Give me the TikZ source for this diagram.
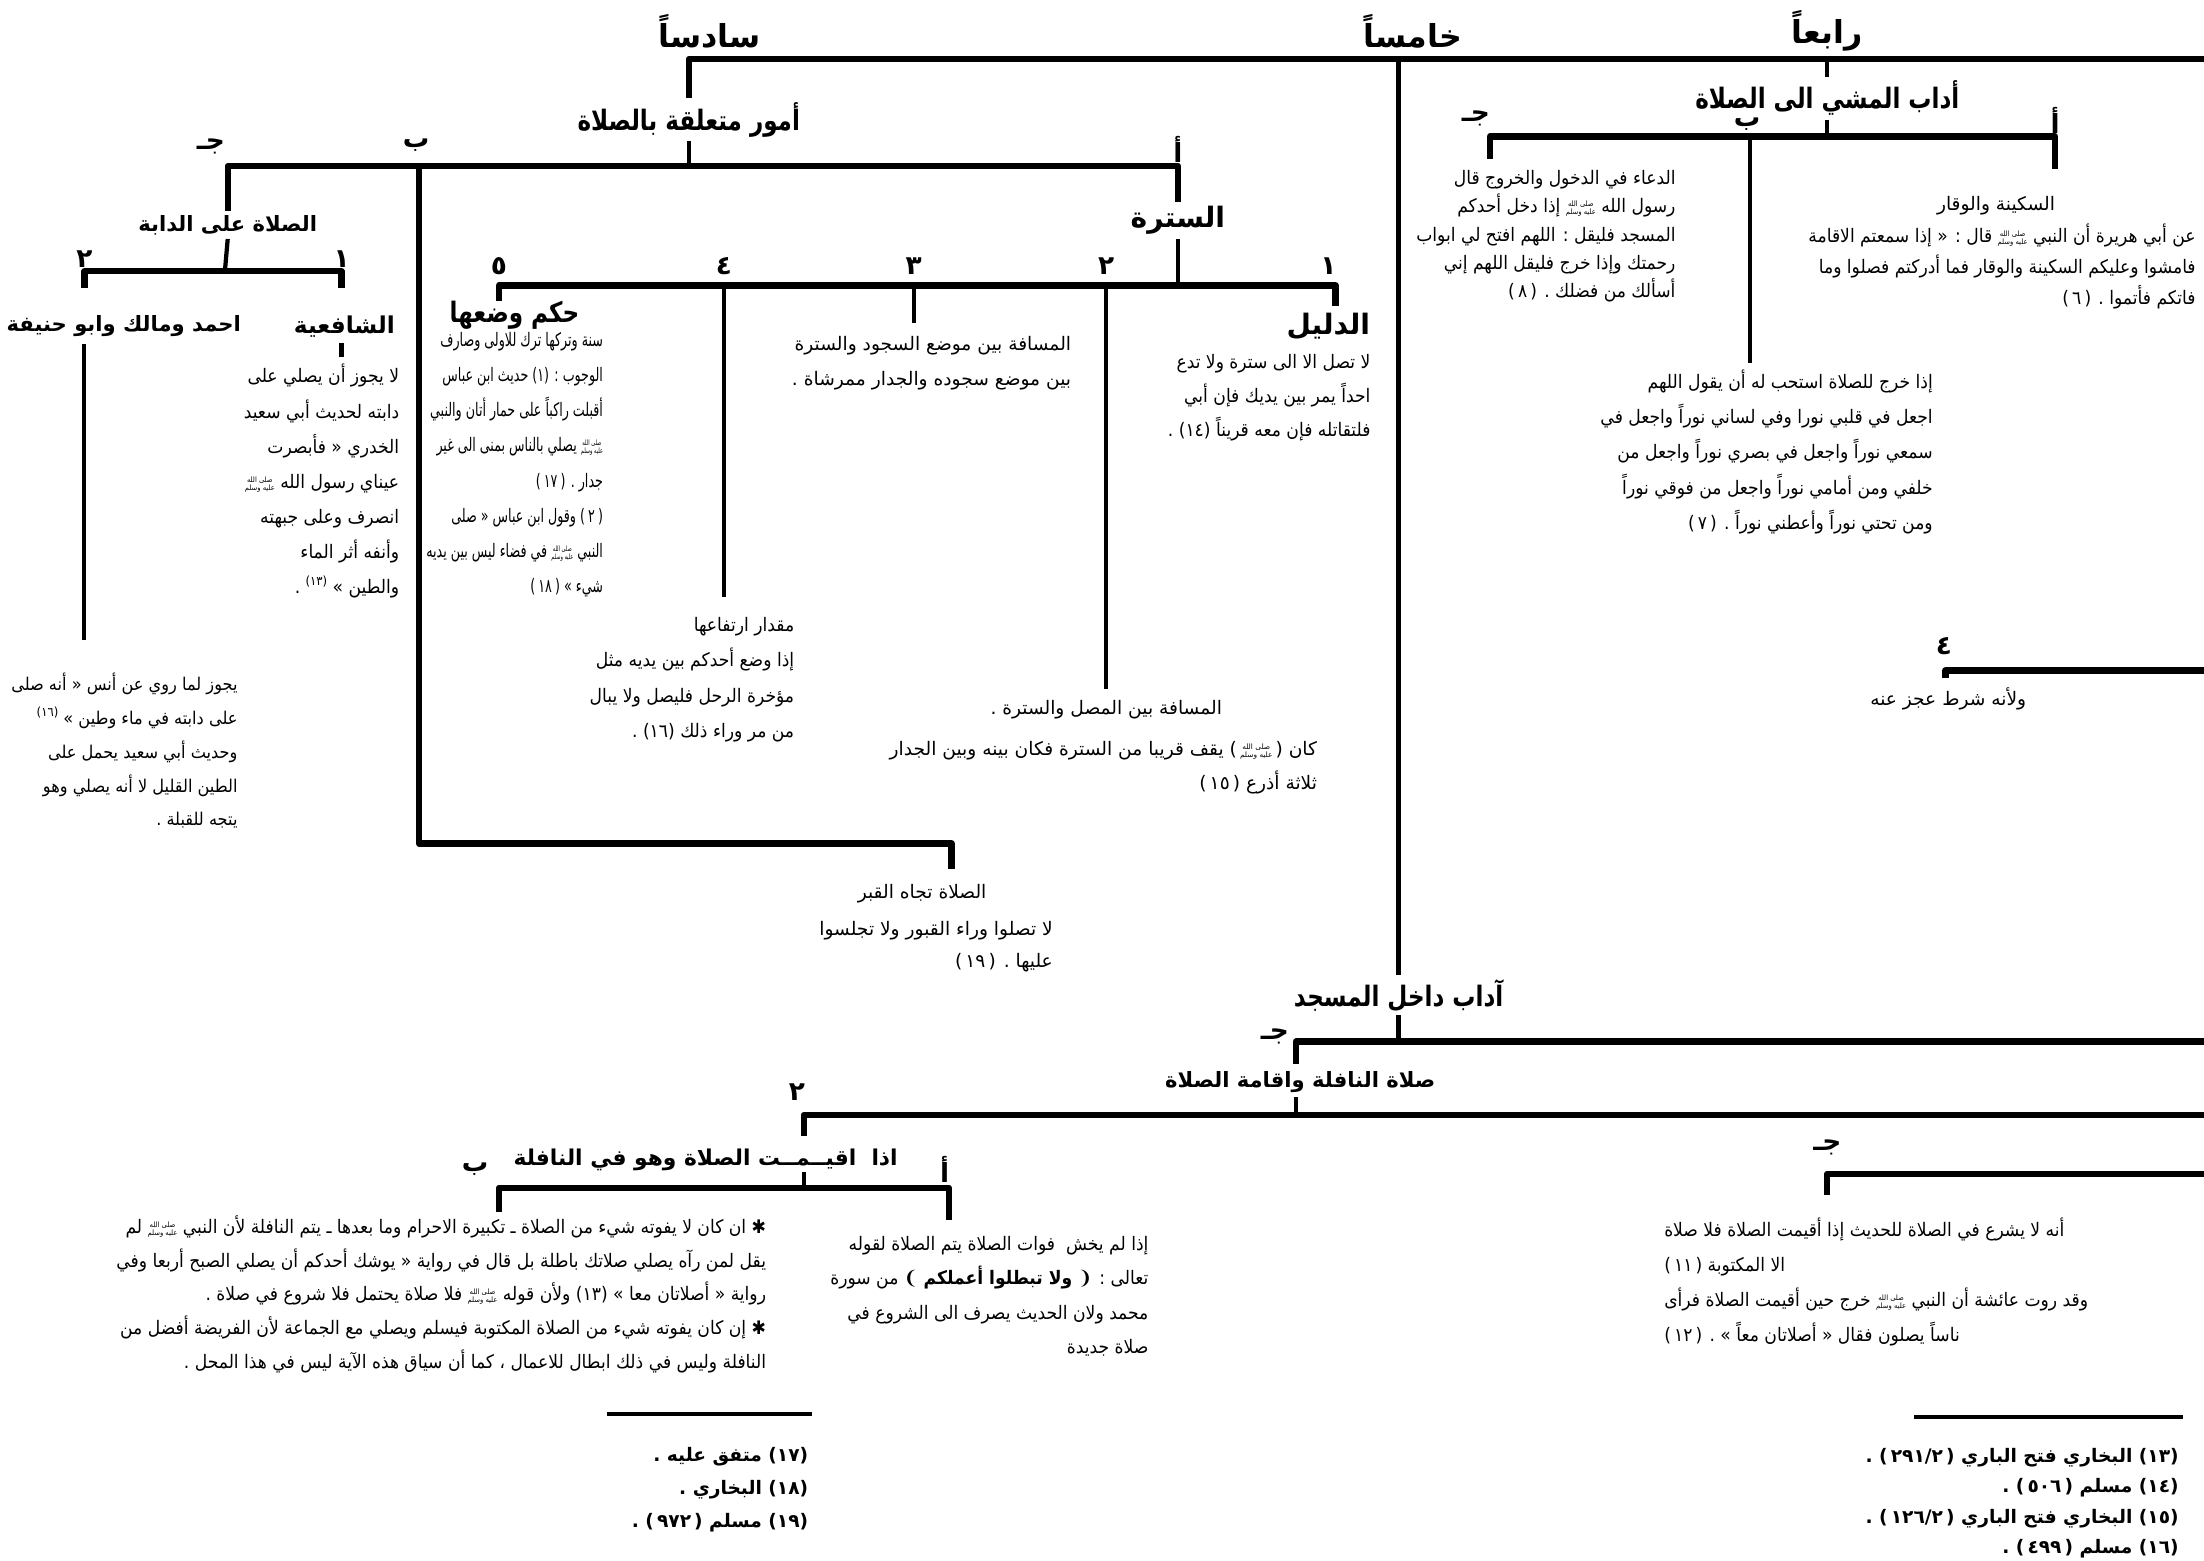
\documentclass[tikz,border=0pt]{standalone}
\usepackage{fontspec}
\newfontfamily\arabicfont[Script=Arabic]{DejaVu Sans}
\newfontfamily\arabicbody[Script=Arabic, FakeStretch=0.92]{DejaVu Sans}
\newfontfamily\arabicnarrow[Script=Arabic, FakeStretch=0.82]{DejaVu Sans}
\newfontfamily\arabictight[Script=Arabic, FakeStretch=0.68]{DejaVu Sans}
\TeXXeTstate=1
\usetikzlibrary{positioning, calc}
\newcommand{\ar}[1]{\beginR#1\endR}
\newcommand{\rf}[1]{(\,#1\,)}
\newcommand{\sps}[1]{\raisebox{0.8ex}{\fontsize{3.6}{4}\selectfont #1}}
% the honorific sign, set small in two lines
\newcommand{\saw}{\raisebox{-0.2ex}{\vbox{\fontsize{2.1}{2.3}\selectfont\offinterlineskip
  \halign{\hfil##\hfil\cr\ar{صلى الله}\cr\noalign{\kern0.4pt}\ar{عليه وسلم}\cr}}}}

\begin{document}
\begin{tikzpicture}[
  x=0.014056cm, y=-0.014056cm,
  every node/.style={inner sep=1pt},
  toplbl/.style = {font=\arabicfont\bfseries\fontsize{9}{11}\selectfont},
  hd/.style     = {font=\arabicnarrow\bfseries\fontsize{8}{10}\selectfont},
  hdw/.style    = {font=\arabicfont\bfseries\fontsize{8}{10}\selectfont},
  sub/.style    = {font=\arabicfont\bfseries\fontsize{6}{8}\selectfont},
  lbl/.style    = {font=\arabicfont\bfseries\fontsize{7.5}{8}\selectfont, inner sep=0pt},
  captxt/.style = {font=\arabicfont\fontsize{5.3}{9.5}\selectfont},
  txt/.style    = {font=\arabicbody\fontsize{5.3}{#1}\selectfont, align=right, anchor=base east},
  txt/.default  = 9.6,
  fn/.style     = {font=\arabicfont\bfseries\fontsize{5.3}{#1}\selectfont, align=right, anchor=base east},
  bar/.style    = {line width=1.8pt, line join=round},
  stem/.style   = {line width=1.2pt},
]
\useasboundingbox (0,0) rectangle (1568,1110);

% top level
\node[toplbl] (n6) at (505,22)  {\ar{سادساً}};
\node[toplbl] (n5) at (1005,22) {\ar{خامساً}};
\node[toplbl] (n4) at (1300,22) {\ar{رابعاً}};
\coordinate (topR) at (1572,42);

\node[hd] (t6) at (490,85)  {\ar{أمور متعلقة بالصلاة}};
\node[hd] (t4) at (1300,70) {\ar{أداب المشي الى الصلاة}};
\node[hd] (t5) at (995,708) {\ar{آداب داخل المسجد}};
\draw[bar]  (t6.north) |- (topR);
\draw[stem] (t5.north |- topR) -- (t5.north);
\draw[stem] (t4.north |- topR) -- (t4.north);

% sixth: matters related to prayer
\coordinate (b6) at (490,118);
\node[sub] (j6) at (162,160) {\ar{الصلاة على الدابة}};
\node[hdw] (a6) at (838,157) {\ar{السترة}};
\draw[stem] (t6.south) -- (b6);
\draw[bar] (j6.north) |- (b6) -| (a6.north);
\node[lbl] (l6j) at (150,104) {\ar{جـ}};
\node[lbl] (l6b) at (296,103) {\ar{ب}};
\node[lbl] (l6a) at (838,106) {\ar{أ}};
\coordinate (b6b) at (298,118);
\coordinate (q6c) at (677,600);
\coordinate (q6e) at (677,618);
\draw[bar] (b6b) |- (q6c) -- (q6e);
\node[captxt] (q6) at (656,636) {\ar{الصلاة تجاه القبر}};
\node[txt=9.2, font=\arabicfont\fontsize{5.3}{9.2}\selectfont] (q6t) at (752,688.5) {\ar{لا تصلوا وراء القبور ولا تجلسوا}\\\ar{عليها . \rf{١٩}}};

% prayer on a riding animal
\coordinate (b6j) at (160,193);
\draw[stem] (j6.south) -- (b6j);
\draw[bar] (60,205) |- (b6j) -| (243,205);
\node[lbl] (l6j2) at (60,184)  {٢};
\node[lbl] (l6j1) at (243,184) {١};
\node[sub] (ahm) at (88,232)  {\ar{احمد ومالك وابو حنيفة}};
\node[sub, font=\arabicfont\bfseries\fontsize{6.6}{8}\selectfont] (shf) at (245,232) {\ar{الشافعية}};
\draw[stem] (243,244) -- (243,254);
\node[txt=10] (shft) at (287,422.5) {\ar{لا يجوز أن يصلي على}\\\ar{دابته لحديث أبي سعيد}\\\ar{الخدري « فأبصرت}\\\ar{عيناي رسول الله \saw}\\\ar{انصرف وعلى جبهته}\\\ar{وأنفه أثر الماء}\\\ar{والطين » \sps{(١٣)} .}};
\draw[stem] (60,245) -- (60,455);
\node[txt=9.6, font=\arabicbody\fontsize{5}{9.6}\selectfont] (ahmt) at (172,587.5) {\ar{يجوز لما روي عن أنس « أنه صلى}\\\ar{على دابته في ماء وطين » \sps{(١٦)}}\\\ar{وحديث أبي سعيد يحمل على}\\\ar{الطين القليل لا أنه يصلي وهو}\\\ar{يتجه للقبلة .}};

% the sutra
\coordinate (b6a) at (838,203);
\draw[stem] (a6.south) -- (b6a);
\draw[bar] (355,214) |- (b6a) -| (950,218);
\foreach \x/\d in {355/٥, 515/٤, 650/٣, 787/٢, 945/١}
  \node[lbl] (s\x) at (\x,189) {\d};
\foreach \x/\y in {515/425, 650/230, 787/490}
  \draw[stem] (\x,203) -- (\x,\y);
\node[hd] (hkm) at (366,224) {\ar{حكم وضعها}};
\node[txt=10, font=\arabictight\fontsize{5.3}{10}\selectfont] (hkmt) at (432,421.5) {\ar{سنة وتركها ترك للاولى وصارف}\\\ar{الوجوب : (١) حديث ابن عباس}\\\ar{أقبلت راكباً على حمار أتان والنبي}\\\ar{\saw{} يصلي بالناس بمنى الى غير}\\\ar{جدار . \rf{١٧}}\\\ar{\rf{٢} وقول ابن عباس « صلى}\\\ar{النبي \saw{} في فضاء ليس بين يديه}\\\ar{شيء » \rf{١٨}}};
\node[txt=10] (s4t) at (568,524.5) {\ar{مقدار ارتفاعها}\\\ar{إذا وضع أحدكم بين يديه مثل}\\\ar{مؤخرة الرحل فليصل ولا يبال}\\\ar{من مر وراء ذلك (١٦) .}};
\node[txt=10, font=\arabicfont\fontsize{5.3}{10}\selectfont] (s3t) at (765,274.5) {\ar{المسافة بين موضع السجود والسترة}\\\ar{بين موضع سجوده والجدار ممرشاة .}};
\node[captxt] (s2h) at (787,505) {\ar{المسافة بين المصل والسترة .}};
\node[txt=9.6, font=\arabicfont\fontsize{5.3}{9.6}\selectfont] (s2t) at (940,561.5) {\ar{كان \rf{\saw} يقف قريبا من السترة فكان بينه وبين الجدار}\\\ar{ثلاثة أذرع \rf{١٥}}};
\node[hdw] (s1h) at (945,232) {\ar{الدليل}};
\node[txt=9.6] (s1t) at (978,310.5) {\ar{لا تصل الا الى سترة ولا تدع}\\\ar{احداً يمر بين يديك فإن أبي}\\\ar{فلتقاتله فإن معه قريناً (١٤) .}};

% fourth: manners of walking to prayer
\coordinate (b4) at (1300,97);
\draw[stem] (t4.south) -- (b4);
\draw[bar] (1060,113) |- (b4) -| (1462,120);
\draw[stem] (1245,97) -- (1245,258);
\node[lbl] (l4j) at (1050,84)  {\ar{جـ}};
\node[lbl] (l4b) at (1243,88)  {\ar{ب}};
\node[lbl] (l4a) at (1462,86)  {\ar{أ}};
\node[txt=8] (j4t) at (1195,211.5) {\ar{الدعاء في الدخول والخروج قال}\\\ar{رسول الله \saw{} إذا دخل أحدكم}\\\ar{المسجد فليقل : اللهم افتح لي ابواب}\\\ar{رحمتك وإذا خرج فليقل اللهم إني}\\\ar{أسألك من فضلك . \rf{٨}}};
\node[txt=10] (b4t) at (1378,376.5) {\ar{إذا خرج للصلاة استحب له أن يقول اللهم}\\\ar{اجعل في قلبي نورا وفي لساني نوراً واجعل في}\\\ar{سمعي نوراً واجعل في بصري نوراً واجعل من}\\\ar{خلفي ومن أمامي نوراً واجعل من فوقي نوراً}\\\ar{ومن تحتي نوراً وأعطني نوراً . \rf{٧}}};
\node[captxt] (a4h) at (1420,146) {\ar{السكينة والوقار}};
\node[txt=8.8] (a4t) at (1565,216.5) {\ar{عن أبي هريرة أن النبي \saw{} قال : « إذا سمعتم الاقامة}\\\ar{فامشوا وعليكم السكينة والوقار فما أدركتم فصلوا وما}\\\ar{فاتكم فأتموا . \rf{٦}}};
\node[lbl] (l44) at (1383,460) {٤};
\draw[bar] (1384,482) |- (1572,477);
\node[captxt] (w4) at (1386,497) {\ar{ولأنه شرط عجز عنه}};

% fifth: manners inside the mosque
\coordinate (b5) at (995,741);
\draw[stem] (t5.south) -- (b5);
\draw[bar] (922,757) |- (1572,741);
\node[lbl] (l5j) at (907,737) {\ar{جـ}};
\node[sub] (n5b) at (925,770) {\ar{صلاة النافلة واقامة الصلاة}};
\coordinate (b5n) at (922,793);
\draw[stem] (n5b.south -| b5n) -- (b5n);
\draw[bar] (572,808) |- (1572,793);
\node[lbl] (l52) at (567,777) {٢};
\node[sub, font=\arabicfont\bfseries\fontsize{6.2}{8}\selectfont] (iq) at (502,825) {\ar{اذا \ اقيــمــت الصلاة وهو في النافلة}};
\coordinate (b5i) at (572,845);
\draw[stem] (572,834) -- (b5i);
\draw[bar] (355,862) |- (b5i) -| (675,868);
\node[lbl] (l5b) at (338,832) {\ar{ب}};
\node[lbl] (l5a) at (672,832) {\ar{أ}};
\node[txt=9.6] (bqt) at (548,973.5) {\ar{✱ ان كان لا يفوته شيء من الصلاة ـ تكبيرة الاحرام وما بعدها ـ يتم النافلة لأن النبي \saw{} لم}\\\ar{يقل لمن رآه يصلي صلاتك باطلة بل قال في رواية « يوشك أحدكم أن يصلي الصبح أربعا وفي}\\\ar{رواية « أصلاتان معا » (١٣) ولأن قوله \saw{} فلا صلاة يحتمل فلا شروع في صلاة .}\\\ar{✱ إن كان يفوته شيء من الصلاة المكتوبة فيسلم ويصلي مع الجماعة لأن الفريضة أفضل من}\\\ar{النافلة وليس في ذلك ابطال للاعمال ، كما أن سياق هذه الآية ليس في هذا المحل .}};
\node[txt=9.8] (aqt) at (820,963) {\ar{إذا لم يخش \ فوات الصلاة يتم الصلاة لقوله}\\\ar{تعالى : ❨ {\bfseries ولا تبطلوا أعملكم} ❩ من سورة}\\\ar{محمد ولان الحديث يصرف الى الشروع في}\\\ar{صلاة جديدة}};
\draw[stem] (432,1006) -- (578,1006);
\node[fn=9.4] (fnl) at (578,1086.5) {\ar{(١٧) متفق عليه .}\\\ar{(١٨) البخاري .}\\\ar{(١٩) مسلم \rf{٩٧٢} .}};

\node[lbl] (l5j2) at (1300,816) {\ar{جـ}};
\draw[bar] (1300,850) |- (1572,835);
\node[txt=10, align=left, anchor=base west] (rjt) at (1181,954.5) {\ar{أنه لا يشرع في الصلاة للحديث إذا أقيمت الصلاة فلا صلاة}\\\ar{الا المكتوبة \rf{١١}}\\\ar{وقد روت عائشة أن النبي \saw{} خرج حين أقيمت الصلاة فرأى}\\\ar{ناساً يصلون فقال « أصلاتان معاً » . \rf{١٢}}};
\draw[stem] (1362,1008) -- (1553,1008);
\node[fn=8.6] (fnr) at (1553,1105) {\ar{(١٣) البخاري فتح الباري \rf{٢٩١/٢} .}\\\ar{(١٤) مسلم \rf{٥٠٦} .}\\\ar{(١٥) البخاري فتح الباري \rf{١٢٦/٢} .}\\\ar{(١٦) مسلم \rf{٤٩٩} .}};
\end{tikzpicture}
\end{document}
